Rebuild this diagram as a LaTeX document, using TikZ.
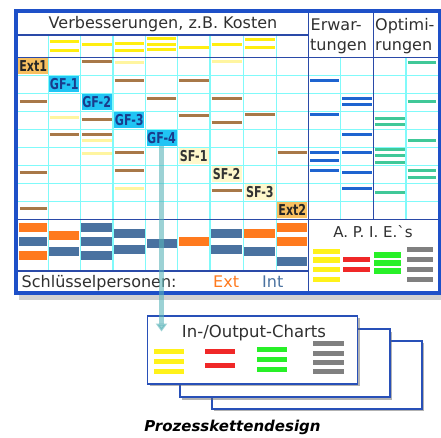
\documentclass[tikz,border=0pt]{standalone}
\usepackage{fontspec}
\setmainfont{DejaVu Sans}
\usetikzlibrary{arrows.meta, positioning, shadows}

\definecolor{framblue}{HTML}{1E50C8}
\definecolor{gridblue}{HTML}{2A4AA8}
\definecolor{gridcyan}{HTML}{80FAFA}
\definecolor{barbrown}{HTML}{A87848}
\definecolor{paleyellow}{HTML}{FFF5A0}
\definecolor{brightyellow}{HTML}{FFEE10}
\definecolor{erwblue}{HTML}{1E64D0}
\definecolor{optgreen}{HTML}{40C898}
\definecolor{extorange}{HTML}{F8C060}
\definecolor{gfcyan}{HTML}{20C4F4}
\definecolor{gftext}{HTML}{1A3C8C}
\definecolor{sfyellow}{HTML}{FFF8CC}
\definecolor{barorange}{HTML}{FF7A1E}
\definecolor{barblue}{HTML}{4A72A0}
\definecolor{apiyellow}{HTML}{FFF21A}
\definecolor{apired}{HTML}{F02828}
\definecolor{apigreen}{HTML}{28F028}
\definecolor{apigray}{HTML}{808080}
\definecolor{textgray}{HTML}{303030}
\definecolor{cardblue}{HTML}{2850B8}
\definecolor{flowteal}{HTML}{5AB4B9}

% left edges of the 13 grid columns (last entry = right edge)
\def\colxs{{18.3,48.3,80.3,113,145.5,177.5,210,243.3,276.3,308.3,340.7,373.3,406,437.7}}

% horizontal mark inside a cell: style, column, y
\newcommand{\cellbar}[3]{%
  \pgfmathsetmacro\xa{\colxs[#2]+1.5}%
  \pgfmathsetmacro\xb{\colxs[#2+1]-1.5}%
  \draw[#1] (\xa,#3) -- (\xb,#3);}
% filled block inside a cell: colour, column, top y
\newcommand{\cellblock}[3]{%
  \pgfmathsetmacro\xa{\colxs[#2]+1}%
  \pgfmathsetmacro\xb{\colxs[#2+1]-1}%
  \fill[#1] (\xa,#3) rectangle (\xb,{#3+9.5});}
% narrow bold text for the step labels
\newcommand{\steptext}[1]{\scalebox{0.74}[1]{#1}}

\begin{document}
\begin{tikzpicture}[x=1pt, y=-1pt, font=\fontsize{16}{20}\selectfont,
    cyan line/.style={draw=gridcyan, line width=1.5pt},
    grid line/.style={draw=gridblue, line width=1.3pt},
    brown line/.style={draw=barbrown, line width=3pt},
    pale line/.style={draw=paleyellow, line width=3pt},
    head line/.style={draw=brightyellow, line width=3pt},
    erw line/.style={draw=erwblue, line width=3pt},
    opt line/.style={draw=optgreen, line width=3pt},
    cell label/.style={inner sep=0pt, minimum width=30pt, minimum height=16pt,
                       font=\bfseries\fontsize{15}{15}\selectfont},
    ext cell/.style={cell label, fill=extorange, text=black!85},
    gf cell/.style={cell label, fill=gfcyan, text=gftext},
    sf cell/.style={cell label, fill=sfyellow, text=black!80},
    chart card/.style={draw=cardblue, line width=1.5pt, fill=white, anchor=north west,
                       minimum width=210pt, minimum height=68pt,
                       drop shadow={shadow xshift=2.5pt, shadow yshift=-2.5pt, fill=black!60}},
    flow line/.style={draw=flowteal, line width=5pt, opacity=0.6,
                      -{Triangle[width=11pt, length=8pt]}}]

    \useasboundingbox (0,0) rectangle (441,437);
    \fill[white] (0,0) rectangle (441,437);

    % shadow under the main frame
    \fill[black!18] (19,294.5) rectangle (441,299.5);

    % cyan cell grid
    \foreach \c in {1,...,8} {
        \pgfmathsetmacro\xa{\colxs[\c]}
        \draw[cyan line] (\xa,35) -- (\xa,271);
    }
    \foreach \x in {340.7,406}
        \draw[cyan line] (\x,57.3) -- (\x,219.3);
    \foreach \r in {1,...,8}
        \draw[cyan line] (18.3,{57.3+18*\r}) -- (437.7,{57.3+18*\r});

    % Verbesserungen: header marks
    \foreach \c/\y in {1/41, 1/50, 2/44, 3/43.5, 3/50, 4/38.5, 4/44, 4/49.5,
                       5/47.5, 6/44, 7/39, 7/47.5}
        {\cellbar{head line}{\c}{\y}}
    \foreach \c/\y in {0/101.7, 0/172.3, 0/208.3, 1/134, 2/61.7, 2/119, 2/134,
                       3/80, 3/152.3, 3/170, 4/98.3, 5/80, 5/115.7, 6/98,
                       6/122.3, 6/190, 7/114, 8/152.3}
        {\cellbar{brown line}{\c}{\y}}
    \foreach \c/\y in {3/62.7, 6/61.7, 1/117.3, 2/140, 2/153.3, 3/188.3}
        {\cellbar{pale line}{\c}{\y}}

    % Erwartungen / Optimierungen
    \foreach \c/\y in {9/80, 9/114, 9/152.3, 9/160, 9/170, 10/98.3, 10/104,
                       10/134, 10/152.3, 10/172.3, 10/188.3}
        {\cellbar{erw line}{\c}{\y}}
    \foreach \c/\y in {11/118.3, 11/124, 11/149.3, 11/155.7, 11/162.3, 11/192.7,
                       12/62.3, 12/101.7, 12/140, 12/170, 12/177.3}
        {\cellbar{opt line}{\c}{\y}}

    % key persons (Ext / Int)
    \foreach \c/\y/\k in {0/222.7/barorange, 0/236.7/barblue, 0/250.7/barorange,
                          1/230.7/barorange, 1/246.7/barblue,
                          2/222.7/barblue, 2/236.7/barblue, 2/250.7/barblue,
                          3/228.7/barblue, 3/244.7/barblue, 4/238.7/barblue,
                          5/236.7/barorange, 6/228.7/barblue, 6/244.7/barblue,
                          7/228.7/barorange, 7/246.7/barblue,
                          8/222.7/barorange, 8/236.7/barorange, 8/256.7/barblue}
        {\cellblock{\k}{\c}{\y}}

    % diagonal of process steps
    \node[ext cell] (ext1) at (33.3,65.6) {\steptext{Ext1}};
    \node[gf cell]  (gf1)  at (64.3,83.6) {\steptext{GF-1}};
    \node[gf cell]  (gf2)  at (96.65,101.6) {\steptext{GF-2}};
    \node[gf cell]  (gf3)  at (129.25,119.6) {\steptext{GF-3}};
    \node[gf cell]  (gf4)  at (161.5,137.6) {\steptext{GF-4}};
    \node[sf cell]  (sf1)  at (193.75,155.6) {\steptext{SF-1}};
    \node[sf cell]  (sf2)  at (226.65,173.6) {\steptext{SF-2}};
    \node[sf cell]  (sf3)  at (259.8,191.6) {\steptext{SF-3}};
    \node[ext cell] (ext2) at (292.3,209.6) {\steptext{Ext2}};

    % dark separators
    \draw[grid line] (18.3,35) -- (308.3,35);
    \draw[grid line] (18.3,57.3) -- (437.7,57.3);
    \draw[grid line] (18.3,219.3) -- (437.7,219.3);
    \draw[grid line] (18.3,271) -- (308.3,271);
    \draw[grid line] (308.3,11) -- (308.3,291);
    \draw[grid line] (373.3,11) -- (373.3,219.3);

    % headings
    \node[anchor=base, text=textgray] (title) at (163,28.5) {Verbesserungen, z.B. Kosten};
    \node[anchor=base west, inner sep=0pt, text=textgray] (erw1) at (310.5,30) {Erwar-};
    \node[anchor=base west, inner sep=0pt, text=textgray] (erw2) at (310,50) {tungen};
    \node[anchor=base west, inner sep=0pt, text=textgray] (opt1) at (375,30) {Optimi-};
    \node[anchor=base west, inner sep=0pt, text=textgray] (opt2) at (375,50) {rungen};
    \node[anchor=base west, inner sep=0pt, text=textgray] (keys) at (21.5,287) {Schlüsselpersonen:};
    \node[anchor=base west, inner sep=0pt, text=barorange] (keyext) at (213,287) {Ext};
    \node[anchor=base west, inner sep=0pt, text=barblue] (keyint) at (262,287) {Int};

    % A.P.I.E.'s legend
    \node[anchor=base, text=textgray, font=\fontsize{15}{15}\selectfont] (apie) at (373,237.3)
        {A. P. I. E.\textasciigrave s};
    \foreach \y in {249,257.3,266.7,276.7} \fill[apiyellow] (313,\y) rectangle (340,{\y+5.3});
    \foreach \y in {256.7,266.7} \fill[apired] (343.3,\y) rectangle (370,{\y+5.3});
    \foreach \y in {252.3,260,268.3} \fill[apigreen] (374,\y) rectangle (400.7,{\y+5.5});
    \foreach \y in {246.7,256.7,266.7,276.7} \fill[apigray] (406.7,\y) rectangle (433.3,{\y+5.3});

    % main frame
    \draw[framblue, line width=4pt] (15.8,10.8) rectangle (439.5,292.5);

    % stacked In-/Output charts
    \node[chart card] (card3) at (211,340) {};
    \node[chart card] (card2) at (179,328.3) {};
    \node[chart card] (card1) at (146.7,315) {};
    \node[anchor=base, text=textgray, font=\fontsize{16.5}{18}\selectfont] (charts) at (254,337.3)
        {In-/Output-Charts};
    \foreach \y in {349,359,368.7} \fill[apiyellow] (154,\y) rectangle (184.3,{\y+5});
    \foreach \y in {349,362.7} \fill[apired] (205,\y) rectangle (235,{\y+5});
    \foreach \y in {346.7,356.7,367.3} \fill[apigreen] (257.3,\y) rectangle (287.3,{\y+5});
    \foreach \y in {341,351,360,368.7} \fill[apigray] (313.3,\y) rectangle (344,{\y+5});

    % GF-4 feeds the charts
    \coordinate (chart in) at (161.5,331.5);
    \draw[flow line] (gf4.south) -- (chart in);

    \node[anchor=base, font=\bfseries\itshape\fontsize{15}{15}\selectfont] (caption) at (232.5,431.7)
        {Prozesskettendesign};
\end{tikzpicture}
\end{document}
